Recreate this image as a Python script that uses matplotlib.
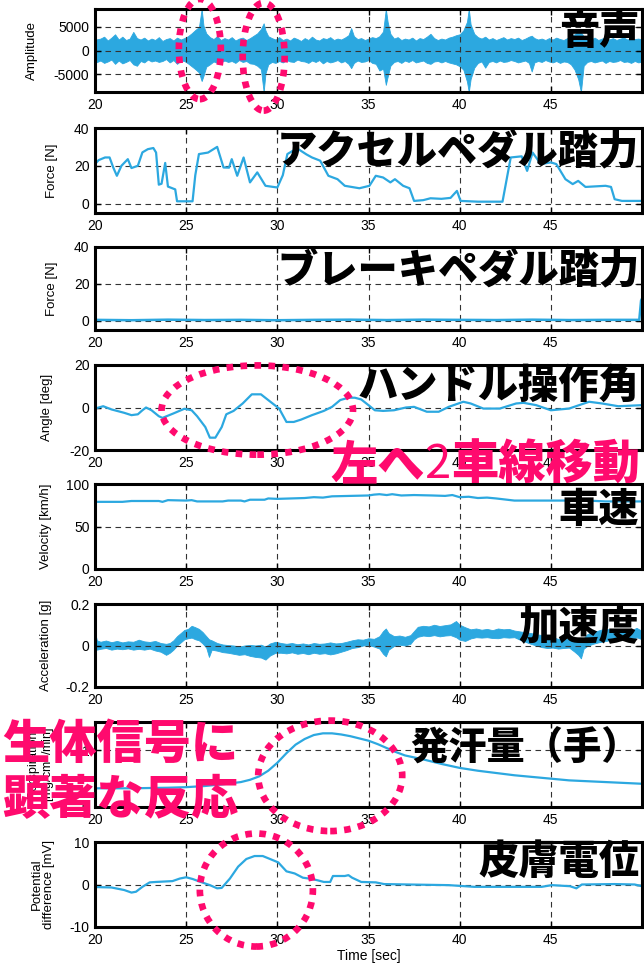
import matplotlib
matplotlib.use('Agg')
import matplotlib.pyplot as plt
from matplotlib.patches import Ellipse

plt.rcParams['font.family'] = ['Liberation Sans', 'Noto Sans CJK JP']
plt.rcParams['axes.unicode_minus'] = False

BLUE = '#2CA8E0'
PINK = '#FF0A6E'

# ---- audio envelope (upper / lower extent of the waveform) ----
audio_t = [20.0, 20.05, 20.3, 20.5, 20.7, 20.9, 21.1, 21.3, 21.5, 21.7,
           21.9, 22.1, 22.3, 22.5, 22.7, 22.9, 23.1, 23.3, 23.5, 23.7,
           23.9, 24.1, 24.3, 24.5, 24.7, 24.9, 25.1, 25.3, 25.5, 25.7,
           25.85, 25.95, 26.1, 26.3, 26.5, 26.7, 26.9, 27.1, 27.3, 27.5,
           27.7, 27.9, 28.1, 28.3, 28.5, 28.7, 28.9, 29.1, 29.25, 29.35,
           29.5, 29.7, 29.9, 30.1, 30.3, 30.5, 30.7, 30.9, 31.1, 31.3,
           31.5, 31.7, 31.9, 32.1, 32.3, 32.5, 32.7, 32.9, 33.1, 33.3,
           33.5, 33.7, 33.9, 34.05, 34.2, 34.4, 34.6, 34.8, 35.0, 35.2,
           35.4, 35.6, 35.8, 35.95, 36.05, 36.2, 36.4, 36.6, 36.8, 37.0,
           37.2, 37.4, 37.6, 37.8, 38.0, 38.2, 38.4, 38.6, 38.8, 39.0,
           39.2, 39.4, 39.6, 39.8, 40.0, 40.2, 40.4, 40.5, 40.6, 40.8,
           41.0, 41.2, 41.4, 41.6, 41.8, 42.0, 42.2, 42.4, 42.6, 42.8,
           43.0, 43.2, 43.4, 43.6, 43.8, 43.95, 44.1, 44.3, 44.5, 44.7,
           44.9, 45.1, 45.3, 45.5, 45.7, 45.9, 46.1, 46.3, 46.5, 46.65,
           46.8, 47.0, 47.2, 47.4, 47.6, 47.8, 48.0, 48.2, 48.4, 48.6,
           48.8, 49.0, 49.2, 49.4, 49.6, 49.8, 50.0]
audio_hi = [4600, 2300, 2500, 2900, 2100, 2700, 3400, 2300, 2900, 2200,
            2500, 3900, 2600, 2300, 2700, 2100, 2500, 2200, 2800, 2000,
            2400, 2600, 2100, 2700, 2300, 2600, 3000, 3600, 4300, 4900,
            8700, 5200, 3600, 2800, 2400, 3000, 2200, 2600, 2300, 2800,
            2100, 2500, 2700, 2200, 2600, 3100, 3600, 4500, 5700, 4200,
            3000, 2600, 2300, 2800, 2200, 2500, 2100, 2700, 2400, 2000,
            2600, 2200, 2900, 2300, 2100, 2600, 2400, 2800, 2200, 2500,
            2300, 2700, 3200, 4700, 3000, 2400, 2600, 2200, 2500, 2800,
            2600, 3000, 4000, 8700, 6000, 3500, 2500, 2800, 2200, 2500,
            2300, 2700, 2100, 2600, 2400, 2900, 3500, 2600, 2200, 2500,
            2300, 2700, 2900, 3200, 3400, 4200, 6000, 8700, 5500, 3500,
            2800, 2500, 2900, 2300, 2600, 2200, 2500, 2800, 2300, 2600,
            2400, 2700, 2200, 2500, 2900, 3100, 2600, 2300, 2500, 2200,
            2600, 2300, 2700, 2400, 2200, 2600, 3000, 3400, 4000, 3800,
            3000, 2500, 2300, 2700, 2200, 2500, 2800, 2300, 2600, 2200,
            2500, 2700, 2300, 2600, 2400, 2500, 2300]
audio_lo = [-4400, -2500, -2100, -2600, -2300, -1900, -2800, -2100, -2700, -2400,
            -2000, -2900, -3200, -2200, -2500, -1900, -2300, -2100, -2400, -2200,
            -1800, -2500, -2000, -2800, -2100, -2200, -2700, -3300, -3900, -4600,
            -6400, -5300, -3400, -2900, -2300, -2600, -2500, -2100, -2400, -2200,
            -2600, -2000, -2400, -2200, -2700, -2800, -3200, -3900, -8700, -4800,
            -2900, -2400, -2600, -2200, -2500, -2000, -2300, -2400, -1900, -2200,
            -2300, -2600, -2100, -2400, -2000, -2700, -2200, -2500, -2300, -2000,
            -2500, -2200, -2800, -3700, -2600, -2100, -2400, -2300, -2000, -2600,
            -2800, -4200, -3800, -7200, -5500, -3200, -2400, -2200, -2600, -2100,
            -2400, -2000, -2500, -2300, -2100, -2600, -2800, -2300, -2200, -2500,
            -2200, -2500, -2700, -2900, -3300, -4000, -6500, -8700, -6000, -3600,
            -2600, -2300, -3600, -2400, -2200, -2500, -2100, -2400, -2300, -2000,
            -2200, -2500, -2300, -2100, -2600, -4400, -2500, -2200, -2400, -2000,
            -2300, -2500, -2200, -2600, -2300, -2400, -2900, -4000, -6000, -8700,
            -3200, -2400, -2200, -2500, -2300, -2100, -2600, -2200, -2400, -2300,
            -2000, -2400, -2300, -2600, -2200, -2500, -2300]

# ---- accelerator pedal force [N] ----
pedal_t = [20.0, 20.2, 20.55, 20.8, 21.0, 21.2, 21.45, 21.8, 22.0, 22.35,
           22.6, 22.9, 23.2, 23.35, 23.5, 23.65, 23.85, 24.0, 24.4, 24.5,
           25.35, 25.5, 25.7, 26.2, 26.7, 27.05, 27.35, 27.5, 27.8, 28.15,
           28.5, 28.9, 29.35, 30.0, 30.3, 30.55, 31.0, 31.2, 31.6, 31.9,
           32.35, 32.8, 33.3, 33.7, 34.5, 35.05, 35.4, 35.8, 36.2, 36.45,
           36.9, 37.25, 37.5, 38.0, 38.4, 39.0, 39.5, 39.85, 40.05, 41.0,
           42.35, 42.8, 43.4, 43.7, 44.0, 44.45, 45.0, 45.3, 45.8, 46.2,
           46.5, 46.9, 48.0, 48.3, 48.5, 48.9, 50.0]
pedal_force = [20.9, 23.0, 24.4, 24.4, 19.1, 14.7, 20.0, 23.5, 18.8, 20.0,
               27.1, 28.8, 29.4, 27.0, 10.0, 10.5, 21.5, 9.0, 7.5, 1.2,
               1.2, 15.0, 26.2, 27.0, 30.0, 19.1, 19.0, 23.5, 14.7, 24.4,
               11.2, 16.5, 9.4, 8.5, 15.0, 26.2, 28.8, 28.5, 26.0, 24.4,
               22.7, 14.7, 12.9, 9.4, 8.1, 9.4, 14.7, 13.8, 11.2, 12.9,
               9.4, 8.1, 1.4, 1.8, 2.8, 2.5, 3.0, 6.7, 1.4, 1.0,
               1.0, 24.4, 25.0, 17.3, 27.0, 20.9, 21.8, 20.9, 12.9, 10.3,
               12.0, 8.8, 9.4, 8.8, 2.3, 1.4, 1.4]

# ---- brake pedal force [N] ----
brake_t = [20.0, 22.0, 24.0, 26.0, 28.0, 30.0, 32.0, 34.0, 36.0, 38.0,
           40.0, 42.0, 44.0, 46.0, 48.0, 49.85, 49.95, 50.0]
brake_force = [0.5, 0.3, 0.6, 0.4, 0.5, 0.3, 0.5, 0.6, 0.4, 0.6,
               0.5, 0.4, 0.6, 0.4, 0.5, 0.5, 11.0, 12.0]

# ---- steering angle [deg] ----
steer_t = [20.0, 20.45, 20.9, 21.6, 22.0, 22.35, 22.6, 22.8, 23.1, 23.5,
           23.7, 24.3, 24.9, 25.3, 25.6, 26.05, 26.3, 26.6, 26.95, 27.2,
           27.6, 28.1, 28.6, 29.1, 29.5, 30.1, 30.5, 30.9, 31.3, 31.9,
           32.55, 33.0, 33.45, 33.9, 34.25, 34.6, 35.0, 35.35, 35.8, 36.4,
           37.05, 37.5, 38.2, 38.85, 39.4, 40.2, 40.6, 41.3, 42.2, 43.1,
           43.5, 44.2, 45.0, 46.0, 47.1, 47.8, 48.7, 50.0]
steer_angle = [-0.5, 0.6, -0.9, -2.5, -3.6, -3.2, -1.3, 0.0, -1.3, -4.1,
               -4.9, -2.8, -0.6, -1.3, -4.1, -9.2, -14.2, -14.2, -9.2, -3.2,
               -1.6, 1.9, 6.2, 6.2, 3.5, -0.5, -6.8, -6.8, -5.7, -3.6,
               -1.6, 0.3, 3.5, 4.6, 4.6, 3.8, 1.1, -1.3, -1.6, -1.3,
               0.0, 0.3, -2.0, -2.0, 0.3, 2.7, 1.9, -0.5, -0.5, 1.9,
               2.2, 1.1, -1.3, -0.5, 2.7, 1.9, 0.6, 1.1]

# ---- vehicle speed [km/h] ----
vel_t = [20.0, 21.5, 22.0, 23.5, 23.7, 24.0, 25.0, 25.3, 25.6, 27.0,
         27.3, 28.0, 28.2, 28.5, 29.3, 29.5, 30.0, 31.5, 32.0, 32.5,
         33.0, 34.0, 35.0, 35.3, 35.6, 36.0, 36.3, 36.8, 37.5, 38.5,
         39.2, 39.6, 40.0, 40.5, 41.0, 41.5, 42.0, 43.0, 45.0, 47.0,
         48.0, 50.0]
velocity = [79.0, 79.0, 80.0, 80.0, 79.0, 81.0, 80.5, 81.0, 79.5, 79.5,
            80.5, 80.5, 79.5, 81.5, 81.5, 83.0, 82.5, 83.5, 84.5, 84.0,
            85.5, 86.0, 86.5, 87.5, 88.0, 87.0, 88.0, 86.5, 87.0, 86.5,
            86.0, 87.0, 84.5, 85.0, 83.5, 84.0, 83.0, 80.5, 80.5, 80.5,
            79.5, 79.5]

# ---- acceleration envelope [g] ----
acc_t = [20.0, 20.1, 20.3, 20.6, 20.9, 21.2, 21.5, 21.8, 22.1, 22.4,
         22.7, 23.0, 23.3, 23.6, 23.9, 24.1, 24.3, 24.5, 24.7, 24.9,
         25.1, 25.3, 25.5, 25.7, 25.9, 26.1, 26.25, 26.4, 26.7, 27.0,
         27.3, 27.6, 27.9, 28.2, 28.5, 28.8, 29.1, 29.35, 29.6, 29.9,
         30.2, 30.5, 30.8, 31.1, 31.4, 31.7, 32.0, 32.3, 32.6, 32.9,
         33.2, 33.5, 33.8, 34.1, 34.4, 34.7, 35.0, 35.3, 35.6, 35.8,
         35.95, 36.1, 36.4, 36.7, 37.0, 37.3, 37.5, 37.7, 38.0, 38.3,
         38.6, 38.9, 39.2, 39.5, 39.8, 40.0, 40.3, 40.6, 40.9, 41.2,
         41.5, 41.8, 42.1, 42.4, 42.7, 43.0, 43.3, 43.6, 43.9, 44.2,
         44.5, 44.8, 45.1, 45.4, 45.7, 46.0, 46.3, 46.5, 46.65, 46.8,
         47.0, 47.3, 47.6, 47.9, 48.2, 48.5, 48.8, 49.1, 49.4, 49.7, 50.0]
acc_hi = [0.065, 0.025, 0.018, 0.024, 0.016, 0.022, 0.015, 0.02, 0.018, 0.028,
          0.02, 0.017, 0.022, 0.012, 0.008, 0.012, 0.025, 0.045, 0.06, 0.075,
          0.08, 0.095, 0.088, 0.08, 0.065, 0.045, 0.03, 0.025, 0.012, 0.005,
          0.002, 0.0, -0.005, 0.0, 0.003, 0.0, 0.004, -0.005, 0.01, 0.018,
          0.012, 0.008, 0.012, 0.006, 0.01, 0.005, 0.012, 0.008, 0.01, 0.015,
          0.01, 0.012, 0.018, 0.025, 0.03, 0.028, 0.035, 0.032, 0.045, 0.07,
          0.082, 0.06, 0.045, 0.048, 0.042, 0.05, 0.07, 0.09, 0.095, 0.092,
          0.1, 0.094, 0.098, 0.102, 0.118, 0.1, 0.088, 0.078, 0.082, 0.076,
          0.08, 0.074, 0.082, 0.078, 0.08, 0.072, 0.068, 0.064, 0.06, 0.055,
          0.05, 0.045, 0.04, 0.032, 0.028, 0.034, 0.03, 0.025, 0.02, 0.035,
          0.055, 0.065, 0.072, 0.08, 0.078, 0.074, 0.08, 0.078, 0.072, 0.085, 0.07]
acc_lo = [-0.012, -0.02, -0.016, -0.012, -0.02, -0.015, -0.018, -0.014, -0.02, -0.016,
          -0.02, -0.015, -0.024, -0.03, -0.045, -0.035, -0.02, 0.0, 0.015, 0.03,
          0.035, 0.038, 0.03, 0.025, 0.01, -0.01, -0.055, -0.02, -0.025, -0.032,
          -0.035, -0.04, -0.045, -0.042, -0.05, -0.055, -0.058, -0.068, -0.048, -0.035,
          -0.035, -0.038, -0.033, -0.04, -0.036, -0.042, -0.035, -0.04, -0.037, -0.043,
          -0.038, -0.03, -0.022, -0.012, -0.008, 0.0, 0.002, -0.005, -0.015, -0.04,
          -0.052, -0.02, -0.002, 0.004, 0.0, 0.008, 0.03, 0.042, 0.048, 0.045,
          0.05, 0.044, 0.048, 0.05, 0.04, 0.028, 0.022, 0.034, 0.04, 0.038,
          0.04, 0.036, 0.035, 0.04, 0.038, 0.04, 0.028, 0.018, 0.008, 0.0,
          -0.008, -0.012, -0.01, -0.015, -0.012, -0.01, -0.03, -0.045, -0.062, -0.015,
          -0.002, 0.008, 0.015, 0.02, 0.025, 0.022, 0.03, 0.028, 0.025, 0.04, 0.03]

# ---- perspiration (hand) ----
sweat_t = [20, 22, 24, 25, 26, 27, 28, 28.5, 29, 29.5,
           30, 30.5, 31, 31.5, 32, 32.5, 33, 33.5, 34, 34.5,
           35, 35.5, 36, 36.5, 37, 38, 39, 40, 41, 42,
           43, 44, 45, 46, 47, 48, 49, 50]
sweat = [0.33, 0.33, 0.34, 0.35, 0.37, 0.40, 0.44, 0.48, 0.54, 0.64,
         0.78, 0.95, 1.10, 1.20, 1.27, 1.30, 1.30, 1.28, 1.25, 1.21,
         1.17, 1.11, 1.04, 0.97, 0.91, 0.84, 0.76, 0.69, 0.64, 0.60,
         0.56, 0.53, 0.50, 0.47, 0.455, 0.44, 0.425, 0.41]

# ---- skin potential [mV] ----
skin_t = [20.0, 20.9, 21.6, 22.0, 22.25, 22.6, 23.0, 23.35, 24.25, 24.65,
          25.0, 25.35, 25.8, 26.3, 26.7, 26.95, 27.4, 27.85, 28.3, 28.75,
          29.2, 29.6, 30.05, 30.5, 30.95, 31.4, 31.9, 32.2, 32.55, 32.9,
          33.05, 33.7, 33.9, 34.1, 34.6, 35.4, 35.85, 37.2, 39.4, 40.8,
          44.5, 45.05, 46.05, 46.4, 46.7, 48.5, 49.6, 50.0]
skin_pot = [-0.6, -0.7, -1.3, -1.9, -1.7, -0.55, 0.5, 0.6, 0.8, 1.4,
            1.7, 1.3, 0.6, -0.15, -0.9, -0.8, 1.4, 4.2, 6.0, 6.7,
            6.7, 6.0, 5.2, 3.1, 2.6, 1.6, 1.3, 1.0, 0.6, 0.6,
            2.0, 2.0, 2.2, 1.6, 0.6, 0.5, 0.1, 0.0, -0.15, -0.55,
            -0.55, -0.15, -0.4, -0.9, 0.0, 0.1, 0.0, -0.4]

x_ticks = [20, 25, 30, 35, 40, 45]

# panel rows in pixels (top, bottom) on a 644x968 canvas
rows = [(9, 92), (128, 213), (247, 330), (365, 450),
        (484, 569), (604, 687), (722, 807), (842, 927)]

fig = plt.figure(figsize=(6.44, 9.68), dpi=100)
axes = []
for top, bot in rows:
    ax = fig.add_axes([95 / 644, 1 - bot / 968, 547 / 644, (bot - top) / 968])
    ax.set_xlim(20, 50)
    ax.set_xticks(x_ticks)
    ax.tick_params(direction='in', top=True, right=True, length=4, width=1,
                   labelsize=10, pad=4)
    ax.grid(True, color='#333333', linestyle=(0, (5, 4)), linewidth=0.8)
    for s in ax.spines.values():
        s.set_linewidth(2.2)
    axes.append(ax)

lw = 1.6
a = axes[0]
a.fill_between(audio_t, audio_lo, audio_hi, color=BLUE, lw=0.6)
a.set_ylim(-8700, 8700)
a.set_yticks([-5000, 0, 5000])
a.set_ylabel('Amplitude', fontsize=9.5)
a.yaxis.set_label_coords(-0.105, 0.5)

a = axes[1]
a.plot(pedal_t, pedal_force, color=BLUE, lw=lw)
a.set_ylim(-5, 40)
a.set_yticks([0, 20, 40])
a.set_ylabel('Force [N]', fontsize=9.5)
a.yaxis.set_label_coords(-0.068, 0.5)

a = axes[2]
a.plot(brake_t, brake_force, color=BLUE, lw=lw + 0.2)
a.set_ylim(-5, 40)
a.set_yticks([0, 20, 40])
a.set_ylabel('Force [N]', fontsize=9.5)
a.yaxis.set_label_coords(-0.068, 0.5)

a = axes[3]
a.plot(steer_t, steer_angle, color=BLUE, lw=lw)
a.set_ylim(-20, 20)
a.set_yticks([-20, 0, 20])
a.set_ylabel('Angle [deg]', fontsize=9.5)
a.yaxis.set_label_coords(-0.077, 0.5)

a = axes[4]
a.plot(vel_t, velocity, color=BLUE, lw=lw)
a.set_ylim(0, 100)
a.set_yticks([0, 50, 100])
a.set_ylabel('Velocity [km/h]', fontsize=9.5)
a.yaxis.set_label_coords(-0.078, 0.5)

a = axes[5]
a.fill_between(acc_t, acc_lo, acc_hi, color=BLUE, lw=0.6)
a.set_ylim(-0.2, 0.2)
a.set_yticks([-0.2, 0, 0.2])
a.set_yticklabels(['-0.2', '0', '0.2'])
a.set_ylabel('Acceleration [g]', fontsize=9.5)
a.yaxis.set_label_coords(-0.078, 0.5)

a = axes[6]
a.plot(sweat_t, sweat, color=BLUE, lw=lw)
a.set_ylim(0, 1.5)
a.set_yticks([0, 1])
a.set_ylabel('Perspiration\n[mg/cm$^2$/min]', fontsize=9, linespacing=0.95)
a.yaxis.set_label_coords(-0.068, 0.5)

a = axes[7]
a.plot(skin_t, skin_pot, color=BLUE, lw=lw)
a.set_ylim(-10, 10)
a.set_yticks([-10, 0, 10])
a.set_ylabel('Potential\ndifference [mV]', fontsize=9.5, linespacing=1.0)
a.yaxis.set_label_coords(-0.073, 0.5)
a.set_xlabel('Time [sec]', fontsize=10, labelpad=2)

# big black titles inside each panel
titles = ['音声', 'アクセルペダル踏力', 'ブレーキペダル踏力', 'ハンドル操作角',
          '車速', '加速度', '発汗量（手）', '皮膚電位']
title_y = [0.72, 0.72, 0.72, 0.76, 0.69, 0.71, 0.69, 0.76]
title_fs = [29, 29, 29, 29, 29, 29, 27.5, 29]
for ax, t, y, fs in zip(axes, titles, title_y, title_fs):
    ax.text(0.995, y, t, transform=ax.transAxes, ha='right', va='center',
            fontsize=fs, fontweight='black', color='black',
            family=['Noto Sans CJK JP'], zorder=6)

# pink dotted ellipses marking reactions
def ring(ax, xy, w, h):
    e = Ellipse(xy, w, h, fill=False, edgecolor=PINK, lw=4.8,
                linestyle=(0, (1, 1.1)), clip_on=False, zorder=8)
    e.set_capstyle('butt')
    ax.add_patch(e)

ring(axes[0], (25.75, 300), 2.3, 21000)
ring(axes[0], (29.25, -1300), 2.3, 22600)
ring(axes[3], (28.9, -1.2), 10.5, 42)
ring(axes[6], (32.9, 0.55), 7.9, 1.95)
ring(axes[7], (28.85, -1.3), 6.2, 26.6)

# pink annotations
pk = dict(color=PINK, fontsize=34, fontweight='black', family=['Noto Sans CJK JP'])
t1 = fig.text(330 / 644, 1 - 465 / 968, '左へ', ha='left', va='center', **pk)
t2 = axes[3].annotate('2', xy=(1, 0), xycoords=t1, ha='left', va='bottom',
                      color=PINK, fontsize=34, family=['Noto Sans CJK JP'],
                      annotation_clip=False)
axes[3].annotate('車線移動', xy=(1, 0), xycoords=t2, ha='left', va='bottom',
                 annotation_clip=False, **pk)
fig.text(2 / 644, 1 - 745 / 968, '生体信号に', ha='left', va='center', **pk)
fig.text(2 / 644, 1 - 800 / 968, '顕著な反応', ha='left', va='center', **pk)

fig.savefig('out.png', dpi=100)
